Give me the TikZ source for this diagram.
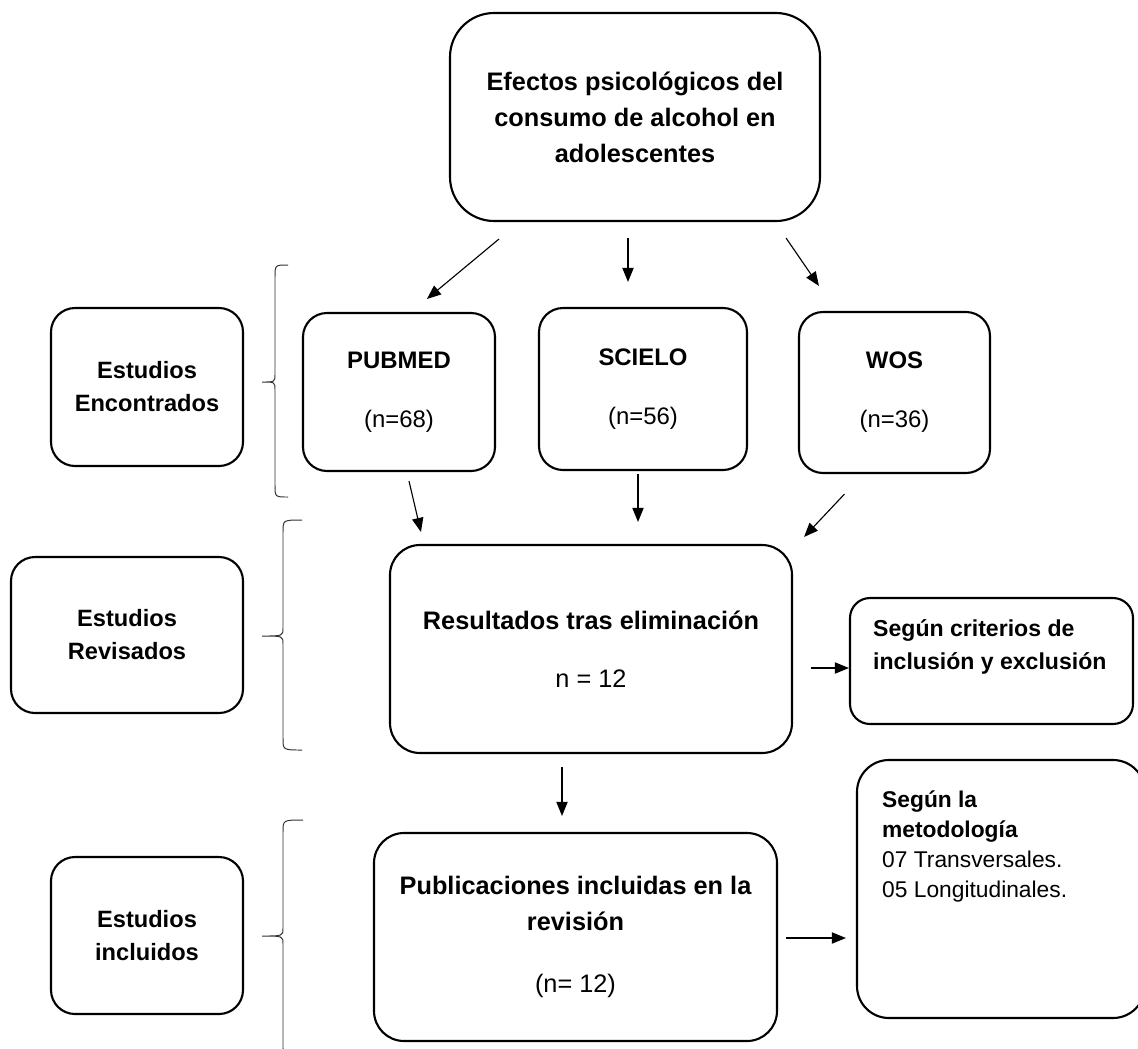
\documentclass[tikz,border=0pt]{standalone}
\usepackage{fontspec}
\setmainfont{Liberation Sans}
\usetikzlibrary{arrows.meta}

\begin{document}
\begin{tikzpicture}[x=0.025cm, y=-0.025cm,
    box/.style 2 args={draw, line width=1.5pt, rounded corners=0.6cm, align=center, inner sep=0pt,
        minimum width=#1*0.025cm, minimum height=#2*0.025cm},
    arr/.style={-{Triangle[length=10pt,width=8pt]}, line width=0.8pt},
    brace/.style={line width=0.7pt, black!80},
    big/.style={font=\fontsize{18}{25.6}\selectfont},
    base/.style={font=\fontsize{17}{20}\selectfont},
    side/.style={font=\bfseries\fontsize{16.8}{23.5}\selectfont}]
    \useasboundingbox (0,0) rectangle (1138,1048);

    % main column
    \node[box={370}{208}, big, rounded corners=1.1cm] (top) at (635,117) {\bfseries Efectos psicológicos del\\\bfseries consumo de alcohol en\\\bfseries adolescentes};
    \node[box={192}{158}, base] (pub) at (399,392) {\textbf{PUBMED}\\[22pt](n=68)};
    \node[box={208}{162}, base] (sci) at (643,389) {\textbf{SCIELO}\\[22pt](n=56)};
    \node[box={191}{161}, base] (wos) at (894.5,392.5) {\textbf{WOS}\\[22pt](n=36)};
    \node[box={402}{208}, big, rounded corners=0.75cm] (res) at (591,649) {\textbf{Resultados tras eliminación}\\[15.7pt]n = 12};
    \node[box={403}{208}, big, rounded corners=0.75cm] (publ) at (575.5,937) {\bfseries Publicaciones incluidas en la\\\bfseries revisión\\[19pt](n= 12)};

    % left column
    \node[box={192}{158}, side] (enc) at (147,387) {Estudios\\Encontrados};
    \node[box={232}{156}, side] (rev) at (127,635) {Estudios\\Revisados};
    \node[box={192}{157}, side] (inc) at (147,935.5) {Estudios\\incluidos};

    % right column
    \node[box={283}{126}, rounded corners=0.5cm] (crit) at (991.5,661) {};
    \node[anchor=north west, align=left, inner sep=0pt, font=\bfseries\fontsize{16.4}{23.5}\selectfont]
        (critx) at ([shift={(24,22)}]crit.north west) {Según criterios de\\inclusión y exclusión};
    \node[box={288}{258}, rounded corners=0.8cm] (met) at (1001,889) {};
    \node[anchor=north west, align=left, inner sep=0pt, font=\fontsize{16.2}{21.3}\selectfont]
        (metx) at ([shift={(26,32)}]met.north west) {\textbf{Según la}\\\textbf{metodología}\\07 Transversales.\\05 Longitudinales.};

    % arrows
    \draw[arr] ([shift={(50,17)}]top.south west) -- ([shift={(125,-13)}]pub.north west);
    \draw[arr] ([shift={(-7,16)}]top.south) -- ([shift={(-15,-25)}]sci.north);
    \draw[arr] ([shift={(-35,16)}]top.south east) -- ([shift={(21,-25)}]wos.north west);
    \draw[arr] ([shift={(10,9)}]pub.south) -- ([shift={(32,-12)}]res.north west);
    \draw[arr] ([shift={(-5,3)}]sci.south) -- ([shift={(47,-22)}]res.north);
    \draw[arr] ([shift={(-50,20)}]wos.south) -- ([shift={(11,-7)}]res.north east);
    \draw[arr] ([shift={(18,19)}]res.east) -- ([shift={(0,7)}]crit.west);
    \draw[arr] ([shift={(-29,13)}]res.south) -- ([shift={(-13.5,-16)}]publ.north);
    \draw[arr] ([shift={(8,1)}]publ.east) -- ([shift={(-10,49)}]met.west);

    % braces
    \foreach \xv/\xe/\ya/\yb/\yc in {275/288/265/382/497, 283/302/520/636/750, 283/303/820/936/1060}
        \draw[brace] (\xe,\ya) .. controls (\xv,\ya) .. (\xv,\ya+12) -- (\xv,\yb-8)
            .. controls (\xv,\yb) .. (262,\yb) .. controls (\xv,\yb) .. (\xv,\yb+8)
            -- (\xv,\yc-12) .. controls (\xv,\yc) .. (\xe,\yc);
\end{tikzpicture}
\end{document}
